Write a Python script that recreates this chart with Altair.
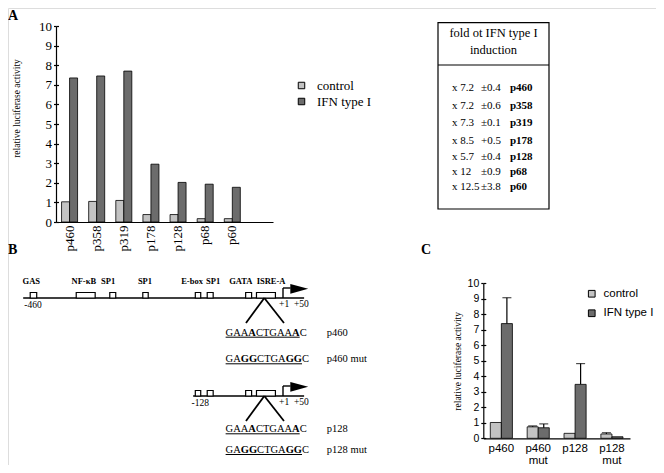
import altair as alt
import pandas as pd

SERIF = "Liberation Serif"
SANS = "Liberation Sans"
W, H = 648, 457

series = ["control", "IFN type I"]
series_colors = ["#c3c3c3", "#6c6c6c"]

# ---------------- Panel A data ----------------
a_constructs = ["p460", "p358", "p319", "p178", "p128", "p68", "p60"]
a_control = [1.03, 1.05, 1.10, 0.38, 0.38, 0.17, 0.17]
a_ifn = [7.35, 7.45, 7.70, 2.95, 2.02, 1.93, 1.77]
a_ticks = list(range(0, 11))

# ---------------- Table data ----------------
tbl_header = ["fold ot IFN type I", "induction"]
tbl_fold = ["x 7.2", "x 7.2", "x 7.3", "x 8.5", "x 5.7", "x 12", "x 12.5"]
tbl_sd = ["\u00b10.4", "\u00b10.6", "\u00b10.1", "+0.5", "\u00b10.4", "\u00b10.9", "\u00b13.8"]
tbl_construct = ["p460", "p358", "p319", "p178", "p128", "p68", "p60"]

# ---------------- Panel B data (positions in bp) ----------------
elem_names = ["GAS", "NF-\u03baB", "SP1", "SP1", "E-box", "SP1", "GATA", "ISRE-A"]
elem_start = [-467, -382, -320, -259, -162, -140, -69, -49]
elem_end = [-455, -347, -309, -249, -152, -129, -58, -14]
elem_label_bp = [-465, -368, -323, -255, -168, -129, -78, -22]

dia_start = [-480, -166]
dia_end = [39, 39]
dia_start_label = ["-460", "-128"]
dia_start_label_bp = [-462, -153]
dia_end_labels = ["+1", "+50"]
dia_end_labels_bp = [2, 34]

seq_wt = [("GAA", False), ("A", True), ("CTGAA", False), ("A", True), ("C", False)]
seq_mut = [("GA", False), ("GG", True), ("CTGA", False), ("GG", True), ("C", False)]
seq_names = ["p460", "p460 mut", "p128", "p128 mut"]
seq_kind = ["wt", "mut", "wt", "mut"]

# ---------------- Panel C data ----------------
c_constructs = ["p460", "p460 mut", "p128", "p128 mut"]
c_control = [1.02, 0.74, 0.32, 0.28]
c_ifn = [7.40, 0.68, 3.48, 0.10]
c_control_err = [None, 0.80, None, 0.36]
c_ifn_err = [9.07, 0.93, 4.82, None]

# ---------------- layout (plot pixels) ----------------
A_X_RANGE = [48, 265]
A_Y_RANGE = [214, 18]
C_X_RANGE = [475.3, 622]
C_Y_RANGE = [430.3, 275.3]
TBL_X_RANGE = [430, 541]
TBL_Y_RANGE = [14.7, 201]
DIA_X_RANGE = [26, 275]
DIA_Y_RANGE = [262, 462]


def y_axis(xpos, font, size, title_x, title_y=None):
    kw = dict(orient="left", offset=-xpos, values=a_ticks, tickSize=2.5,
              tickColor="black", tickWidth=1.2, domainColor="black", domainWidth=1.2,
              grid=False, labelFont=font, labelFontSize=size, labelColor="black",
              labelPadding=2, title="relative luciferase activity", titleFont=SERIF,
              titleFontSize=9.5, titleFontWeight="normal", titleColor="black", titleX=title_x)
    if title_y is not None:
        kw["titleY"] = title_y
    return alt.Axis(**kw)


def inner_ticks(xpos):
    return alt.Axis(orient="right", offset=xpos - W, values=a_ticks, tickSize=2.5,
                    tickColor="black", tickWidth=1.2, domain=False, labels=False,
                    grid=False, title=None)


# ================= Panel A =================
dfA = pd.DataFrame({
    "construct": a_constructs * 2,
    "series": [series[0]] * len(a_constructs) + [series[1]] * len(a_constructs),
    "value": a_control + a_ifn,
})
a_domain = a_constructs + [" "]
ax = alt.X("construct:N", sort=a_domain,
           scale=alt.Scale(domain=a_domain, range=A_X_RANGE, paddingInner=0.41, paddingOuter=0.205),
           axis=alt.Axis(orient="bottom", offset=A_Y_RANGE[0] - H, title=None, ticks=False,
                         labelAngle=270, labelFont=SERIF, labelFontSize=13, labelColor="black",
                         labelPadding=3, domainColor="black", domainWidth=1.2))
axo = alt.XOffset("series:N", sort=series, scale=alt.Scale(domain=series))
barsA = alt.Chart(dfA).mark_bar(stroke="black", strokeWidth=0.8).encode(
    x=ax, xOffset=axo,
    y=alt.Y("value:Q", scale=alt.Scale(domain=[0, 10], range=A_Y_RANGE, nice=False),
            axis=y_axis(A_X_RANGE[0], SERIF, 13, -35, 100)),
    color=alt.Color("series:N", sort=series,
                    scale=alt.Scale(domain=series, range=series_colors),
                    legend=alt.Legend(orient="none", legendX=287, legendY=71, title=None,
                                      symbolType="square", symbolSize=42, symbolStrokeColor="black",
                                      symbolStrokeWidth=1, labelFont=SERIF, labelFontSize=13,
                                      labelColor="black", labelOffset=9, rowPadding=2, padding=0)),
)
ghostA = alt.Chart(dfA).mark_bar(opacity=0).encode(
    x=ax, xOffset=axo, y=alt.Y("value:Q", axis=inner_ticks(A_X_RANGE[0])))
panelA = alt.layer(barsA, ghostA).resolve_axis(y="independent")

# ================= Table =================
TW, TH = 111, 186.3
tbl_x = alt.Scale(domain=[0, TW], range=TBL_X_RANGE, nice=False, zero=False)
tbl_y = alt.Scale(domain=[0, TH], range=TBL_Y_RANGE, nice=False, zero=False)
tbl_row_y = [65, 83.3, 100.3, 118, 134, 149.3, 164.3]
tbl_header_y = [10.3, 27.3]
tbl_rule_y = 42.3
tbl_col_x = [14, 43, 72]

box_df = pd.DataFrame({"x": [0], "x2": [TW], "y": [0], "y2": [TH]})
tbox = alt.Chart(box_df).mark_rect(fill="white", stroke="black", strokeWidth=1.2).encode(
    x=alt.X("x:Q", scale=tbl_x, axis=None), x2="x2:Q",
    y=alt.Y("y:Q", scale=tbl_y, axis=None), y2="y2:Q")
trule_df = pd.DataFrame({"x": [0], "x2": [TW], "y": [tbl_rule_y]})
trule = alt.Chart(trule_df).mark_rule(color="black", strokeWidth=1.2).encode(
    x=alt.X("x:Q", scale=tbl_x, axis=None), x2="x2:Q",
    y=alt.Y("y:Q", scale=tbl_y, axis=None))
thead_df = pd.DataFrame({"t": tbl_header, "x": [TW / 2] * 2, "y": tbl_header_y})
thead = alt.Chart(thead_df).mark_text(font=SERIF, fontSize=12.5, color="black", baseline="middle").encode(
    x=alt.X("x:Q", scale=tbl_x, axis=None), y=alt.Y("y:Q", scale=tbl_y, axis=None), text="t:N")
trows_df = pd.DataFrame({"fold": tbl_fold, "sd": tbl_sd, "c": tbl_construct, "y": tbl_row_y,
                         "x1": [tbl_col_x[0]] * 7, "x2": [tbl_col_x[1]] * 7, "x3": [tbl_col_x[2]] * 7})
tcols = []
for xf, tf, wt in [("x1", "fold", "normal"), ("x2", "sd", "normal"), ("x3", "c", "bold")]:
    tcols.append(alt.Chart(trows_df).mark_text(font=SERIF, fontSize=11, color="black", align="left",
                                               baseline="middle", fontWeight=wt).encode(
        x=alt.X(f"{xf}:Q", scale=tbl_x, axis=None), y=alt.Y("y:Q", scale=tbl_y, axis=None),
        text=f"{tf}:N"))
table = alt.layer(tbox, trule, thead, *tcols)

# ================= Panel B diagram =================
BP_PX = (DIA_X_RANGE[1] - DIA_X_RANGE[0]) / 460.0
dx = alt.Scale(domain=[-460, 0], range=DIA_X_RANGE, nice=False, zero=False)
dy = alt.Scale(domain=[0, 200], range=DIA_Y_RANGE, nice=False, zero=False)
track_y = [28, 126]
seq_row_y = [62.7, 89.3, 159.3, 180]
seq_start_bp = -106
name_bp = 81
FS_SEQ = 10.5
ARROW_UP = 10

lines_df = pd.DataFrame({"x": dia_start, "x2": dia_end, "y": track_y})
boxes = []
for t in range(2):
    for n, s, e in zip(elem_names, elem_start, elem_end):
        if s >= dia_start[t]:
            boxes.append({"x": s, "x2": e, "y": track_y[t] - 5.5, "y2": track_y[t]})
boxes_df = pd.DataFrame(boxes)
elab_df = pd.DataFrame({"t": elem_names, "x": elem_label_bp, "y": [track_y[0] - 17.5] * len(elem_names)})
plab = []
for t in range(2):
    plab.append({"t": dia_start_label[t], "x": dia_start_label_bp[t], "y": track_y[t] + 7})
    for lt, lx in zip(dia_end_labels, dia_end_labels_bp):
        plab.append({"t": lt, "x": lx, "y": track_y[t] + 6})
plab_df = pd.DataFrame(plab)

arrow_v = pd.DataFrame({"x": [0, 0], "y": track_y, "y2": [v - ARROW_UP for v in track_y]})
arrow_h = pd.DataFrame({"x": [0, 0], "x2": [14, 14], "y": [v - ARROW_UP for v in track_y]})
arrow_head = pd.DataFrame({"x": [30, 30], "y": [v - ARROW_UP + 0.8 for v in track_y]})
vlegs = []
for t in range(2):
    for xe in [-68.4, 1.8]:
        vlegs.append({"x": -34.5, "y": track_y[t], "x2": xe, "y2": track_y[t] + 25})
vlegs_df = pd.DataFrame(vlegs)

REG = {"A": .722, "C": .667, "G": .722, "T": .611}
BLD = {"A": .722, "C": .722, "G": .778, "T": .667}


def seg_w(s, b):
    return sum((BLD if b else REG)[ch] for ch in s) * FS_SEQ


segs = []
ulines = []
for k, yrow in zip(seq_kind, seq_row_y):
    parts = seq_wt if k == "wt" else seq_mut
    cum = 0.0
    for s, b in parts:
        segs.append({"t": s, "x": seq_start_bp + cum / BP_PX, "y": yrow, "b": 1 if b else 0})
        cum += seg_w(s, b)
    last = seg_w(parts[-1][0], parts[-1][1])
    ulines.append({"x": seq_start_bp, "x2": seq_start_bp + (cum - last) / BP_PX, "y": yrow + 4.5})
segs_df = pd.DataFrame(segs)
ul_df = pd.DataFrame(ulines)
names_df = pd.DataFrame({"t": seq_names, "x": [name_bp] * 4, "y": seq_row_y})


def XQ(f="x"):
    return alt.X(f"{f}:Q", scale=dx, axis=None)


def YQ(f="y"):
    return alt.Y(f"{f}:Q", scale=dy, axis=None)


d_lines = alt.Chart(lines_df).mark_rule(color="black", strokeWidth=1.4).encode(x=XQ(), x2="x2:Q", y=YQ())
d_boxes = alt.Chart(boxes_df).mark_rect(fill="white", stroke="black", strokeWidth=1.2).encode(
    x=XQ(), x2="x2:Q", y=YQ(), y2="y2:Q")
d_elab = alt.Chart(elab_df).mark_text(font=SERIF, fontSize=8.5, fontWeight="bold", color="black",
                                      baseline="middle").encode(x=XQ(), y=YQ(), text="t:N")
d_plab = alt.Chart(plab_df).mark_text(font=SERIF, fontSize=9.5, color="black", baseline="middle").encode(
    x=XQ(), y=YQ(), text="t:N")
d_av = alt.Chart(arrow_v).mark_rule(color="black", strokeWidth=1.4).encode(x=XQ(), y=YQ(), y2="y2:Q")
d_ah = alt.Chart(arrow_h).mark_rule(color="black", strokeWidth=1.4).encode(x=XQ(), x2="x2:Q", y=YQ())
d_head = alt.Chart(arrow_head).mark_point(shape="M-1,-0.55L1,0L-1,0.55Z", size=320, filled=True,
                                          color="black", opacity=1).encode(x=XQ(), y=YQ())
d_v = alt.Chart(vlegs_df).mark_rule(color="black", strokeWidth=1.8).encode(
    x=XQ(), x2="x2:Q", y=YQ(), y2="y2:Q")
d_seq_n = alt.Chart(segs_df).transform_filter("datum.b == 0").mark_text(
    font=SERIF, fontSize=FS_SEQ, color="black", align="left", baseline="middle").encode(
    x=XQ(), y=YQ(), text="t:N")
d_seq_b = alt.Chart(segs_df).transform_filter("datum.b == 1").mark_text(
    font=SERIF, fontSize=FS_SEQ, fontWeight="bold", color="black", align="left", baseline="middle").encode(
    x=XQ(), y=YQ(), text="t:N")
d_ul = alt.Chart(ul_df).mark_rule(color="black", strokeWidth=1).encode(x=XQ(), x2="x2:Q", y=YQ())
d_names = alt.Chart(names_df).mark_text(font=SERIF, fontSize=10.5, color="black", align="left",
                                        baseline="middle").encode(x=XQ(), y=YQ(), text="t:N")
diagram = alt.layer(d_lines, d_boxes, d_elab, d_plab, d_av, d_ah, d_head, d_v, d_seq_n, d_seq_b,
                    d_ul, d_names)

# ================= Panel C =================
dfC = pd.DataFrame({
    "construct": c_constructs * 2,
    "series": [series[0]] * 4 + [series[1]] * 4,
    "value": c_control + c_ifn,
    "err": c_control_err + c_ifn_err,
})
cx = alt.X("construct:N", sort=c_constructs,
           scale=alt.Scale(domain=c_constructs, range=C_X_RANGE, paddingInner=0.4, paddingOuter=0.19),
           axis=alt.Axis(orient="bottom", offset=C_Y_RANGE[0] - H, title=None, ticks=False, labelAngle=0,
                         labelExpr="split(datum.label, ' ')", labelFont=SANS, labelFontSize=11.5,
                         labelLineHeight=12.5, labelPadding=4, labelColor="black", labelBaseline="top",
                         domainColor="black", domainWidth=1.2))
cxo = alt.XOffset("series:N", sort=series, scale=alt.Scale(domain=series))
c_yscale = alt.Scale(domain=[0, 10], range=C_Y_RANGE, nice=False)
c_yaxis = y_axis(C_X_RANGE[0], SANS, 10.5, -21)
barsC = alt.Chart(dfC).mark_bar(stroke="black", strokeWidth=0.8).encode(
    x=cx, xOffset=cxo,
    y=alt.Y("value:Q", scale=c_yscale, axis=c_yaxis),
    color=alt.Color("series:N", sort=series, scale=alt.Scale(domain=series, range=series_colors),
                    legend=alt.Legend(orient="none", legendX=578, legendY=280, title=None,
                                      symbolType="square", symbolSize=45, symbolStrokeColor="black",
                                      symbolStrokeWidth=1, labelFont=SANS, labelFontSize=11.5,
                                      labelColor="black", labelOffset=6, rowPadding=6.5, padding=0,
                                      labelLimit=200)),
)
errC = alt.Chart(dfC).transform_filter("isValid(datum.err)").mark_rule(color="black", strokeWidth=1.2).encode(
    x=cx, xOffset=cxo, y=alt.Y("value:Q", scale=c_yscale, axis=c_yaxis), y2="err:Q")
capC = alt.Chart(dfC).transform_filter("isValid(datum.err)").mark_tick(color="black", thickness=1.2, size=9).encode(
    x=cx, xOffset=cxo, y=alt.Y("err:Q", scale=c_yscale, axis=c_yaxis))
ghostC = alt.Chart(dfC).mark_bar(opacity=0).encode(
    x=cx, xOffset=cxo, y=alt.Y("value:Q", scale=c_yscale, axis=inner_ticks(C_X_RANGE[0])))
panelC = alt.layer(alt.layer(barsC, errC, capC), ghostC).resolve_axis(y="independent")

# ================= panel letters =================
letters = []
for lt, lx, ly in [("A", 0, 0.5), ("B", 0, 235), ("C", 413, 235)]:
    letters.append(alt.Chart(pd.DataFrame({"k": [0]})).mark_text(
        x=lx, y=ly, font=SERIF, fontSize=14, fontWeight="bold", color="black",
        align="left", baseline="top").encode(text=alt.value(lt)))

chart = alt.layer(panelA, table, diagram, panelC, *letters).resolve_scale(
    x="independent", y="independent", color="independent", xOffset="independent"
).properties(
    width=W, height=H, autosize=alt.AutoSizeParams(type="none"), padding=0
).configure_view(stroke="transparent").configure(font=SERIF)

chart.save("out.html", embed_options={"renderer": "svg", "actions": False})
